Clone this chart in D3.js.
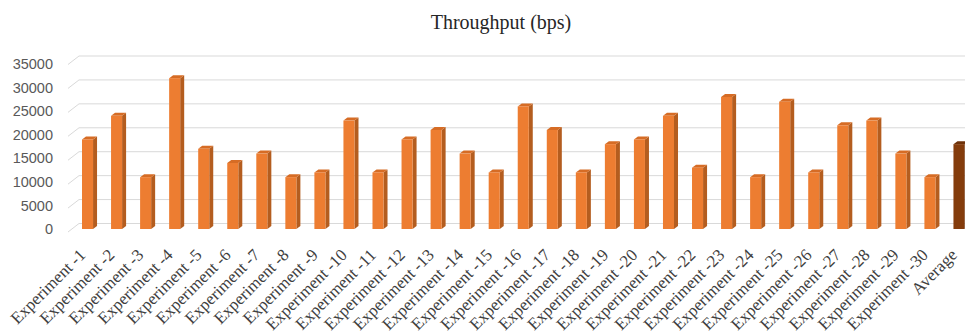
<!DOCTYPE html>
<html>
<head>
<meta charset="utf-8">
<script src="https://cdn.jsdelivr.net/npm/d3@7"></script>
<style>
  html, body { margin: 0; padding: 0; background: #fff; }
  svg { display: block; }
</style>
</head>
<body>
<svg id="chart" width="965" height="335"></svg>
<script>
// Throughput per experiment run, plus the overall average (bps)
const categories = [
  "Experiment -1", "Experiment -2", "Experiment -3", "Experiment -4", "Experiment -5",
  "Experiment -6", "Experiment -7", "Experiment -8", "Experiment -9", "Experiment -10",
  "Experiment -11", "Experiment -12", "Experiment -13", "Experiment -14", "Experiment -15",
  "Experiment -16", "Experiment -17", "Experiment -18", "Experiment -19", "Experiment -20",
  "Experiment -21", "Experiment -22", "Experiment -23", "Experiment -24", "Experiment -25",
  "Experiment -26", "Experiment -27", "Experiment -28", "Experiment -29", "Experiment -30",
  "Average"
];
const throughput = [
  19000, 24000, 11000, 32000, 17000,
  14000, 16000, 11000, 12000, 23000,
  12000, 19000, 21000, 16000, 12000,
  26000, 21000, 12000, 18000, 19000,
  24000, 13000, 28000, 11000, 27000,
  12000, 22000, 23000, 16000, 11000,
  18000
];
const yTicks = [0, 5000, 10000, 15000, 20000, 25000, 30000, 35000];
const chartTitle = "Throughput (bps)";

const svg = d3.select("#chart");

// Front plane (bars, value labels) and back wall (gridlines) scales
const yFront = d3.scaleLinear().domain([0, 35000]).range([229, 64]);
const yBack = d3.scaleLinear().domain([0, 35000]).range([223.5, 56]);
const x = d3.scaleBand()
  .domain(categories)
  .range([73, 973.5])
  .paddingInner(0.62)
  .paddingOuter(0.31);

// 3D offsets
const floorDx = 11, floorDy = 8.5;   // depth of the floor (wall to front)
const barDx = 4, barDy = -3;         // depth of each column

// Title
svg.append("text")
  .attr("x", 501)
  .attr("y", 29)
  .attr("text-anchor", "middle")
  .attr("font-family", "'Liberation Serif', 'Times New Roman', serif")
  .attr("font-size", 20)
  .attr("fill", "#262626")
  .text(chartTitle);

// Gridlines on the back wall, with the short floor edge on the left
svg.append("g").selectAll("path")
  .data(yTicks)
  .join("path")
  .attr("d", v => {
    const yb = yBack(v);
    return `M${68},${yb + floorDy} L${68 + floorDx},${yb} L965,${yb}`;
  })
  .attr("fill", "none")
  .attr("stroke", "#d9d9d9")
  .attr("stroke-width", 1);

// Value axis labels
svg.append("g").selectAll("text")
  .data(yTicks)
  .join("text")
  .attr("x", 53)
  .attr("y", v => yFront(v))
  .attr("dy", "0.35em")
  .attr("text-anchor", "end")
  .attr("font-family", "'Liberation Sans', Arial, sans-serif")
  .attr("font-size", 14.5)
  .attr("fill", "#595959")
  .text(v => v);

// Columns: front face, right side, top
const palette = i => categories[i] === "Average"
  ? { front: "#843c0c", side: "#5a2808", top: "#6e3109" }
  : { front: "#ed7d31", side: "#b45d1f", top: "#d66c25" };

const bars = svg.append("g").selectAll("g")
  .data(throughput.map((v, i) => ({ v, i, c: categories[i] })))
  .join("g");

bars.append("path")
  .attr("d", d => {
    const x0 = x(d.c), x1 = x0 + x.bandwidth();
    const yt = yFront(d.v), yb = yFront(0);
    return `M${x1},${yb} L${x1 + barDx},${yb + barDy} L${x1 + barDx},${yt + barDy} L${x1},${yt} Z`;
  })
  .attr("fill", d => palette(d.i).side);

bars.append("path")
  .attr("d", d => {
    const x0 = x(d.c), x1 = x0 + x.bandwidth();
    const yt = yFront(d.v);
    return `M${x0},${yt} L${x0 + barDx},${yt + barDy} L${x1 + barDx},${yt + barDy} L${x1},${yt} Z`;
  })
  .attr("fill", d => palette(d.i).top);

bars.append("rect")
  .attr("x", d => x(d.c))
  .attr("y", d => yFront(d.v))
  .attr("width", x.bandwidth())
  .attr("height", d => yFront(0) - yFront(d.v))
  .attr("fill", d => palette(d.i).front);

// Category labels, slanted
svg.append("g").selectAll("text")
  .data(categories)
  .join("text")
  .attr("transform", c => `translate(${x(c) + x.bandwidth() / 2 - 1},${256}) rotate(-45)`)
  .attr("text-anchor", "end")
  .attr("font-family", "'Liberation Serif', 'Times New Roman', serif")
  .attr("font-size", 17)
  .attr("fill", "#404040")
  .text(c => c);
</script>
</body>
</html>
